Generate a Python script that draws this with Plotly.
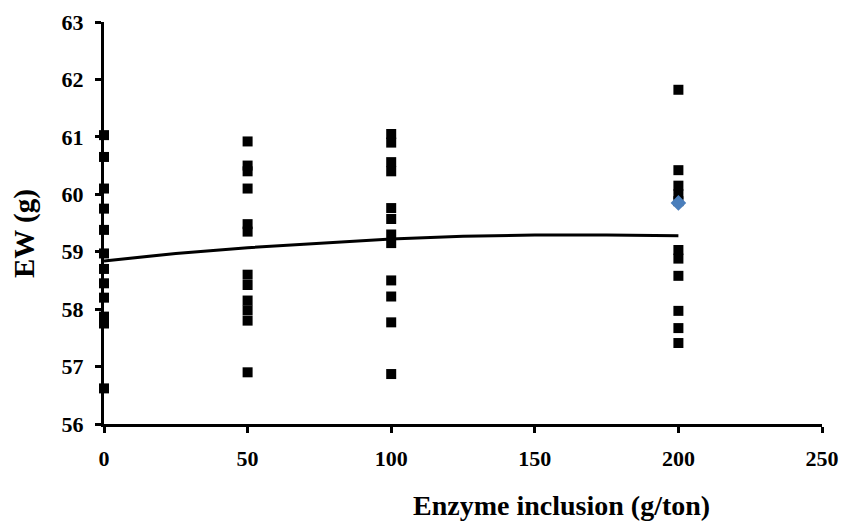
import plotly.graph_objects as go

# Egg weight (g) per enzyme inclusion level (g/ton)
dose_levels = [0, 50, 100, 200]
ew_dose_0 = [61.03, 60.65, 60.1, 59.75, 59.38, 58.97, 58.7, 58.45, 58.2, 57.87, 57.75, 56.62]
ew_dose_50 = [60.92, 60.5, 60.4, 60.1, 59.48, 59.35, 58.6, 58.42, 58.15, 57.98, 57.8, 56.9]
ew_dose_100 = [61.05, 60.9, 60.56, 60.4, 59.76, 59.57, 59.3, 59.15, 58.5, 58.22, 57.77, 56.87]
ew_dose_200 = [61.82, 60.42, 60.15, 60.0, 59.88, 59.03, 58.88, 58.58, 57.97, 57.67, 57.41]
mean_x = [200]
mean_y = [59.85]

# Fitted (quadratic) trend
trend_x = [0, 25, 50, 75, 100, 125, 150, 175, 200]
trend_y = [58.84, 58.97, 59.07, 59.15, 59.22, 59.27, 59.29, 59.29, 59.28]

x_ticks = [0, 50, 100, 150, 200, 250]
y_ticks = [56, 57, 58, 59, 60, 61, 62, 63]

FONT = "Liberation Serif"

xs, ys = [], []
for d, vals in zip(dose_levels, [ew_dose_0, ew_dose_50, ew_dose_100, ew_dose_200]):
    xs += [d] * len(vals)
    ys += vals

fig = go.Figure()
fig.add_trace(go.Scatter(
    x=trend_x, y=trend_y, mode="lines", line=dict(color="black", width=3),
    hoverinfo="skip", showlegend=False, cliponaxis=False,
))
fig.add_trace(go.Scatter(
    x=xs, y=ys, mode="markers",
    marker=dict(symbol="square", size=10, color="black", line=dict(width=0)),
    showlegend=False, cliponaxis=False,
))
fig.add_trace(go.Scatter(
    x=mean_x, y=mean_y, mode="markers",
    marker=dict(symbol="diamond", size=12, color="#4A7EBB", line=dict(width=0)),
    showlegend=False, cliponaxis=False,
))

axis_common = dict(
    showline=True, linecolor="black", linewidth=3, mirror=False,
    ticks="outside", ticklen=6, tickwidth=3, tickcolor="black",
    showgrid=False, zeroline=False, automargin=False,
    tickfont=dict(family=FONT, size=22, color="black", weight="bold"),
)

fig.update_layout(
    width=843, height=527,
    margin=dict(l=104, r=21, t=22, b=103),
    paper_bgcolor="white", plot_bgcolor="white",
    xaxis=dict(range=[0, 250], tickvals=x_ticks, ticklabelstandoff=7, **axis_common),
    yaxis=dict(range=[56, 63], tickvals=y_ticks, ticklabelstandoff=7, **axis_common),
    annotations=[
        dict(text="Enzyme inclusion (g/ton)", xref="paper", yref="paper",
             x=(561 - 104) / 718, y=-(505 - 424) / 402, xanchor="center", yanchor="middle",
             showarrow=False, font=dict(family=FONT, size=28, color="black", weight="bold")),
        dict(text="EW (g)", xref="paper", yref="paper",
             x=-(104 - 24) / 718, y=(424 - 234) / 402, xanchor="center", yanchor="middle",
             textangle=-90, showarrow=False,
             font=dict(family=FONT, size=29, color="black", weight="bold")),
    ],
)

fig.write_html("out.html")
